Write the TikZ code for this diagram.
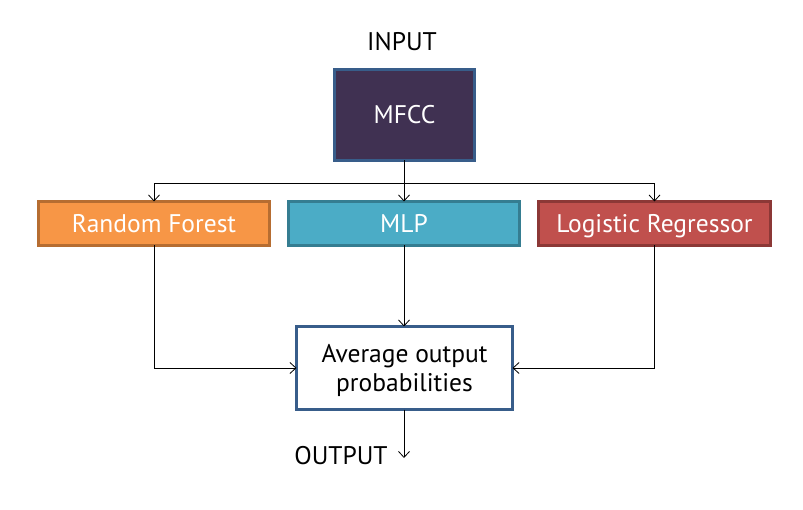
\documentclass[tikz,border=0pt]{standalone}
\usepackage{fontspec}
\setmainfont{PT Sans}
\usetikzlibrary{arrows.meta}
\definecolor{mfccfill}{HTML}{403152}
\definecolor{blueedge}{HTML}{385D8A}
\definecolor{rffill}{HTML}{F79646}
\definecolor{rfedge}{HTML}{B66D31}
\definecolor{mlpfill}{HTML}{4BACC6}
\definecolor{mlpedge}{HTML}{357D91}
\definecolor{lrfill}{HTML}{C0504D}
\definecolor{lredge}{HTML}{8C3836}
\tikzset{
  box/.style={draw, line width=2.5pt, outer sep=0pt, inner sep=0pt, align=center, text=white, font=\fontsize{25.5}{29}\selectfont},
  oneline/.style={text height=18pt, text depth=0pt},
  model/.style={box, oneline, minimum width=231pt, minimum height=44pt},
  arr/.style={draw=black, line width=0.8pt, -{Straight Barb[length=6pt,width=11pt]}},
  lbl/.style={font=\fontsize{25.5}{29}\selectfont, inner sep=0pt}
}
\begin{document}
\begin{tikzpicture}[x=1pt,y=-1pt]
\useasboundingbox (0,0) rectangle (803,510);
\node[lbl] (input) at (402,42) {INPUT};
\node[box, oneline, fill=mfccfill, draw=blueedge, minimum width=140pt, minimum height=91pt] (mfcc) at (404.5,115) {MFCC};
\node[model, fill=rffill, draw=rfedge] (rf) at (154,223.5) {Random Forest};
\node[model, fill=mlpfill, draw=mlpedge] (mlp) at (404,223.5) {MLP};
\node[model, fill=lrfill, draw=lredge, minimum width=232pt] (lr) at (654.5,223.5) {Logistic Regressor};
\node[box, fill=white, draw=blueedge, text=black, text depth=0pt, minimum width=216pt, minimum height=83pt] (avg) at (404.5,368) {Average output\\probabilities};
\node[lbl] (output) at (341,456) {OUTPUT};
\coordinate (split) at (404,183);
\coordinate (outend) at (404,458);
\draw[line width=0.8pt] (mfcc.south -| split) -- (split);
\draw[arr] (split) -| (rf.north);
\draw[arr] (split) -| (lr.north);
\draw[arr] (split) -- (split |- mlp.north);
\draw[arr] (rf.south) |- (avg.west);
\draw[arr] (lr.south) |- (avg.east);
\draw[arr] (mlp.south) -- (mlp.south |- avg.north);
\draw[arr] (avg.south -| outend) -- (outend);
\end{tikzpicture}
\end{document}
